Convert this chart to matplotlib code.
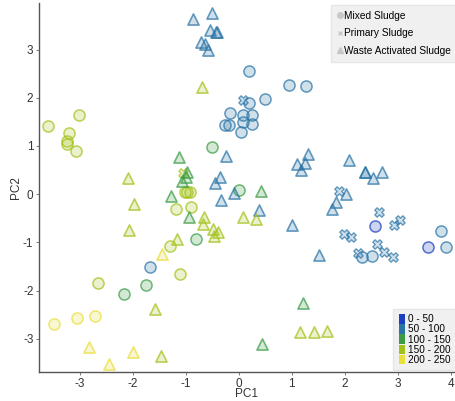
import matplotlib
matplotlib.use("Agg")
import matplotlib.pyplot as plt
from matplotlib.lines import Line2D
from matplotlib.patches import Patch

plt.rcParams['font.family'] = ['Liberation Sans', 'DejaVu Sans']
plt.rcParams['axes.unicode_minus'] = False

# concentration groups: 0 = 0-50, 1 = 50-100, 2 = 100-150, 3 = 150-200, 4 = 200-250
group_labels = ['0 - 50', '50 - 100', '100 - 150', '150 - 200', '200 - 250']
group_colors = ['#1b3fbf', '#2a74a6', '#3b9c45', '#a2c217', '#e8df3a']

mixed_pc1 = [-3.60, -3.02, -3.21, -3.25, -3.25, -3.08,
             0.19, 0.94, 1.26, 0.49, 0.19, -0.17, 0.08, 0.25, -0.26, -0.19, 0.08, 0.25, 0.04,
             -0.51, -1.02, -0.98, -0.92, 0.00, -1.19, -0.91, -0.81, -1.30, -1.68, -1.11,
             -2.66, -1.75, -2.17, -3.49, -3.06, -2.72,
             2.57, 3.57, 3.81, 3.91, 2.32, 2.51]
mixed_pc2 = [1.41, 1.64, 1.27, 1.10, 1.04, 0.89,
             2.55, 2.26, 2.24, 1.97, 1.89, 1.68, 1.64, 1.64, 1.43, 1.43, 1.49, 1.45, 1.29,
             0.98, 0.04, 0.04, 0.05, 0.08, -0.31, -0.27, -0.93, -1.08, -1.51, -1.66,
             -1.85, -1.89, -2.07, -2.70, -2.57, -2.53,
             -0.66, -1.10, -0.77, -1.10, -1.31, -1.29]
mixed_grp = [3, 3, 3, 3, 3, 3,
             1, 1, 1, 1, 1, 1, 1, 1, 1, 1, 1, 1, 1,
             2, 3, 3, 3, 2, 3, 3, 2, 3, 1, 3,
             3, 2, 2, 4, 4, 4,
             0, 0, 1, 1, 1, 1]

primary_pc1 = [0.08, -1.06, 1.89, 2.64, 3.04, 2.92, 1.98, 2.11, 2.60, 2.74, 2.91, 2.25]
primary_pc2 = [1.95, 0.44, 0.07, -0.37, -0.54, -0.64, -0.83, -0.89, -1.04, -1.20, -1.31, -1.22]
primary_grp = [1, 3, 1, 1, 1, 1, 1, 1, 1, 1, 1, 1]

was_pc1 = [-0.87, -0.51, -0.55, -0.43, -0.42, -0.72, -0.64, -0.58,
           -0.70,
           -1.13, -0.25, -0.98, -1.00, -1.07, -0.36, -0.45, -1.28, -0.34, -0.09, 0.42, 0.38,
           -0.94, -0.66, -0.68, 0.08, 0.32, -0.49, -0.40, -0.47, -1.17, -1.45,
           -2.09, -1.98, -2.08, -1.58, -2.83, -2.00, -2.45, -1.47,
           1.30, 1.09, 1.25, 1.17, 2.08, 2.38, 2.39, 2.53, 2.70, 2.02, 1.84, 1.75, 1.01, 1.51,
           1.21, 1.15, 1.42, 1.66, 0.43]
was_pc2 = [3.63, 3.76, 3.40, 3.36, 3.37, 3.15, 3.11, 2.99,
           2.22,
           0.77, 0.79, 0.46, 0.35, 0.27, 0.35, 0.23, -0.04, -0.12, 0.02, 0.06, -0.33,
           -0.48, -0.48, -0.62, -0.48, -0.52, -0.73, -0.79, -0.87, -0.93, -1.25,
           0.33, -0.21, -0.75, -2.39, -3.17, -3.28, -3.53, -3.36,
           0.83, 0.62, 0.64, 0.50, 0.71, 0.46, 0.47, 0.33, 0.46, 0.00, -0.16, -0.31, -0.64, -1.27,
           -2.26, -2.86, -2.86, -2.84, -3.11]
was_grp = [1, 1, 1, 1, 1, 1, 1, 1,
           3,
           2, 1, 2, 2, 2, 1, 1, 2, 1, 1, 2, 1,
           2, 3, 3, 3, 3, 3, 3, 3, 3, 4,
           3, 3, 3, 3, 4, 4, 4, 3,
           1, 1, 1, 1, 1, 1, 1, 1, 1, 1, 1, 1, 1, 1,
           2, 3, 3, 3, 2]

fig = plt.figure(figsize=(4.56, 4.01), dpi=100)
ax = fig.add_axes([0.0855, 0.072, 0.91, 0.92])


def draw(xs, ys, grps, marker, size, lw):
    for x, y, g in zip(xs, ys, grps):
        c = group_colors[g]
        ax.scatter(x, y, s=size, marker=marker, facecolors=matplotlib.colors.to_rgba(c, 0.22),
                   edgecolors=matplotlib.colors.to_rgba(c, 0.72), linewidths=lw, zorder=3)


draw(mixed_pc1, mixed_pc2, mixed_grp, 'o', 64, 1.1)
draw(primary_pc1, primary_pc2, primary_grp, 'X', 45, 1.0)
draw(was_pc1, was_pc2, was_grp, '^', 64, 1.2)

ax.set_xlim(-3.77, 4.06)
ax.set_ylim(-3.69, 3.96)
ax.set_xticks(range(-3, 5))
ax.set_yticks(range(-3, 4))
for s in ['top', 'right']:
    ax.spines[s].set_visible(False)
for s in ['left', 'bottom']:
    ax.spines[s].set_color('#555555')
    ax.spines[s].set_linewidth(1.0)
ax.tick_params(colors='#666666', labelcolor='#333333', labelsize=8.5, length=2.5, width=0.6, pad=1.5)
ax.set_xlabel('PC1', fontsize=8.5, color='#333333', labelpad=-1)
ax.set_ylabel('PC2', fontsize=8.5, color='#333333', labelpad=1)

gray = '#c8c8c8'
shape_handles = [
    Line2D([], [], ls='none', marker='o', ms=4, color=gray),
    Line2D([], [], ls='none', marker='x', ms=3.5, mew=1, color=gray),
    Line2D([], [], ls='none', marker='^', ms=4, color=gray),
]
leg1 = ax.legend(shape_handles, ['Mixed Sludge', 'Primary Sludge', 'Waste Activated Sludge'],
                 loc='upper right', bbox_to_anchor=(1.01, 1.0), fontsize=7.3,
                 handlelength=0.5, handletextpad=0.15, labelspacing=0.75,
                 borderpad=0.55, borderaxespad=0.2, frameon=True, fancybox=False)
leg1.get_frame().set_facecolor('#f0f0f0')
leg1.get_frame().set_edgecolor('#e6e6e6')
leg1.get_frame().set_alpha(1)
ax.add_artist(leg1)

color_handles = [Patch(facecolor=c, edgecolor='none') for c in group_colors]
leg2 = ax.legend(color_handles, group_labels, loc='lower right', bbox_to_anchor=(1.01, 0.0),
                 fontsize=7.2, handlelength=0.6, handleheight=1.05, handletextpad=0.3,
                 labelspacing=0.0, borderpad=0.55, borderaxespad=0.2,
                 frameon=True, fancybox=False)
leg2.get_frame().set_facecolor('#f0f0f0')
leg2.get_frame().set_edgecolor('#e6e6e6')
leg2.get_frame().set_alpha(1)

fig.savefig('out.png', dpi=100)
